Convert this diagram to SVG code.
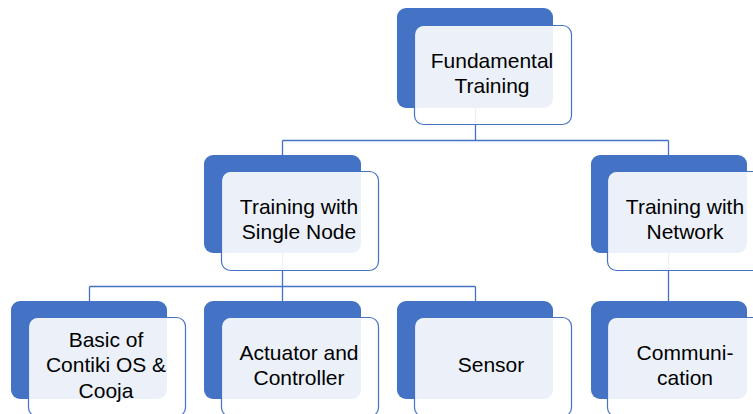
<svg xmlns="http://www.w3.org/2000/svg" width="753" height="414" viewBox="0 0 753 414">
  <style>
    .back { fill: #4472C4; }
    .front { fill: #FFFFFF; fill-opacity: 0.9; stroke: #4472C4; stroke-width: 1.2; }
    .link { fill: none; stroke: #4472C4; stroke-width: 1.3; }
    .label { font-family: "Liberation Sans", Arial, sans-serif; font-size: 21px; fill: #000000; text-anchor: middle; }
  </style>
  <rect width="753" height="414" fill="#FFFFFF"/>

  <!-- hierarchy connectors -->
  <g id="connectors">
    <path class="link" d="M475.5 108 V140.5 M282.5 140.5 H668.5 M282.5 140.5 V155 M668.5 140.5 V155"/>
    <path class="link" d="M282.5 253 V286.5 M89.5 286.5 H475.5 M89.5 286.5 V301 M282.5 286.5 V301 M475.5 286.5 V301"/>
    <path class="link" d="M668.5 253 V301"/>
  </g>

  <g id="node-fundamental">
    <rect class="back" x="397" y="8" width="156" height="100" rx="9"/>
    <rect class="front" x="414.5" y="25.5" width="157" height="99" rx="9"/>
    <text class="label" x="492" y="68">Fundamental</text>
    <text class="label" x="492" y="93">Training</text>
  </g>

  <g id="node-single">
    <rect class="back" x="204" y="155" width="157" height="98" rx="9"/>
    <rect class="front" x="221.5" y="171.5" width="157" height="99" rx="9"/>
    <text class="label" x="299" y="214">Training with</text>
    <text class="label" x="299" y="239">Single Node</text>
  </g>

  <g id="node-network">
    <rect class="back" x="591" y="155" width="156" height="98" rx="9"/>
    <rect class="front" x="607.5" y="171.5" width="157" height="99" rx="9"/>
    <text class="label" x="685" y="214">Training with</text>
    <text class="label" x="685" y="239">Network</text>
  </g>

  <g id="node-contiki">
    <rect class="back" x="11" y="301" width="156" height="98" rx="9"/>
    <rect class="front" x="28.5" y="317.5" width="157" height="99" rx="9"/>
    <text class="label" x="106" y="347">Basic of</text>
    <text class="label" x="106" y="372">Contiki OS &amp;</text>
    <text class="label" x="106" y="398">Cooja</text>
  </g>

  <g id="node-actuator">
    <rect class="back" x="204" y="301" width="157" height="98" rx="9"/>
    <rect class="front" x="221.5" y="317.5" width="157" height="99" rx="9"/>
    <text class="label" x="299" y="360">Actuator and</text>
    <text class="label" x="299" y="385">Controller</text>
  </g>

  <g id="node-sensor">
    <rect class="back" x="397" y="301" width="156" height="98" rx="9"/>
    <rect class="front" x="414.5" y="317.5" width="157" height="99" rx="9"/>
    <text class="label" x="491" y="372">Sensor</text>
  </g>

  <g id="node-communication">
    <rect class="back" x="591" y="301" width="156" height="98" rx="9"/>
    <rect class="front" x="607.5" y="317.5" width="157" height="99" rx="9"/>
    <text class="label" x="685" y="360">Communi-</text>
    <text class="label" x="685" y="385">cation</text>
  </g>
</svg>
